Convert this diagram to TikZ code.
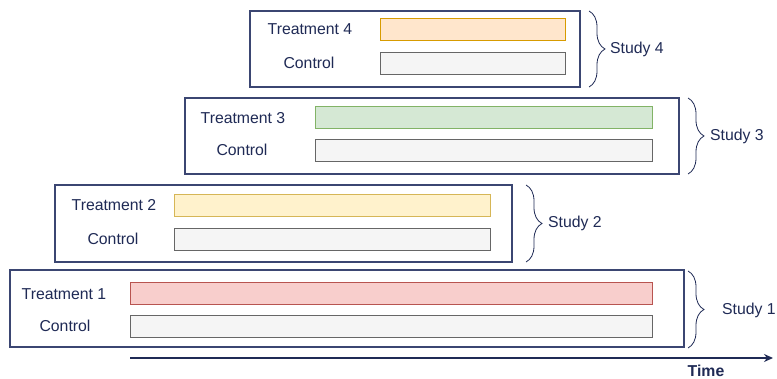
\documentclass[tikz,border=0pt]{standalone}
\usepackage{fontspec}
\setmainfont{Liberation Sans}
\usetikzlibrary{decorations.pathreplacing,arrows.meta}
\definecolor{navy}{HTML}{1F2A55}
\definecolor{boxline}{HTML}{3B4672}
\definecolor{ctlfill}{HTML}{F5F5F5}\definecolor{ctlline}{HTML}{666666}
\definecolor{t1fill}{HTML}{F8CECC}\definecolor{t1line}{HTML}{B85450}
\definecolor{t2fill}{HTML}{FFF2CC}\definecolor{t2line}{HTML}{D6B656}
\definecolor{t3fill}{HTML}{D5E8D4}\definecolor{t3line}{HTML}{82B366}
\definecolor{t4fill}{HTML}{FFE6CC}\definecolor{t4line}{HTML}{D79B00}
\tikzset{
  studybox/.style={draw=boxline, line width=1.1pt, fill=white, inner sep=0pt, rectangle},
  bar/.style={draw=#1line, fill=#1fill, line width=0.9pt, inner sep=0pt, rectangle, minimum height=22pt},
  lbl/.style={text=navy, font=\fontsize{15.8}{18}\selectfont, inner sep=0pt},
  bracebar/.style={draw=navy, line width=0.8pt, decorate, decoration={brace, amplitude=16pt}},
}
\begin{document}
\begin{tikzpicture}[x=1pt, y=-1pt]
\useasboundingbox (0,0) rectangle (777,379);
% Study 4
\node[studybox, minimum width=330pt, minimum height=76pt] (s4) at (415,49) {};
\node[bar=t4, minimum width=185pt] (t4) at (473,29.5) {};
\node[bar=ctl, minimum width=185pt] (c4) at (473,63) {};
\node[lbl] (l4t) at (310,29.5) {Treatment 4};
\node[lbl] (l4c) at (309,63) {Control};
\coordinate (b4a) at (589,11); \coordinate (b4b) at (589,87);
\draw[bracebar] (b4a) -- (b4b);
\node[lbl, anchor=west] (st4) at (610,49) {Study 4};
% Study 3
\node[studybox, minimum width=494pt, minimum height=76pt] (s3) at (432,136) {};
\node[bar=t3, minimum width=337pt] (t3) at (483.5,117.5) {};
\node[bar=ctl, minimum width=337pt] (c3) at (483.5,150) {};
\node[lbl] (l3t) at (243,118) {Treatment 3};
\node[lbl] (l3c) at (242,150) {Control};
\coordinate (b3a) at (688,98); \coordinate (b3b) at (688,174);
\draw[bracebar] (b3a) -- (b3b);
\node[lbl, anchor=west] (st3) at (710,136) {Study 3};
% Study 2
\node[studybox, minimum width=457pt, minimum height=77pt] (s2) at (283.5,223.5) {};
\node[bar=t2, minimum width=316pt] (t2) at (332,205) {};
\node[bar=ctl, minimum width=316pt] (c2) at (332,239) {};
\node[lbl] (l2t) at (114,205) {Treatment 2};
\node[lbl] (l2c) at (113,239) {Control};
\coordinate (b2a) at (526,185); \coordinate (b2b) at (526,262);
\draw[bracebar] (b2a) -- (b2b);
\node[lbl, anchor=west] (st2) at (548,223) {Study 2};
% Study 1
\node[studybox, minimum width=674pt, minimum height=77pt] (s1) at (347,308.5) {};
\node[bar=t1, minimum width=522pt] (t1) at (391,293.5) {};
\node[bar=ctl, minimum width=522pt] (c1) at (391,326) {};
\node[lbl] (l1t) at (64,294) {Treatment 1};
\node[lbl] (l1c) at (65,326) {Control};
\coordinate (b1a) at (688,271); \coordinate (b1b) at (688,348);
\draw[bracebar] (b1a) -- (b1b);
\node[lbl, anchor=west] (st1) at (722,310) {Study 1};
% Time axis
\coordinate (ta) at (130,358); \coordinate (tb) at (773,358);
\draw[navy, line width=1.3pt, -{Stealth[length=9pt,width=8pt]}] (ta) -- (tb);
\node[lbl, font=\bfseries\fontsize{15.8}{18}\selectfont] (time) at (706,371) {Time};
\end{tikzpicture}
\end{document}
